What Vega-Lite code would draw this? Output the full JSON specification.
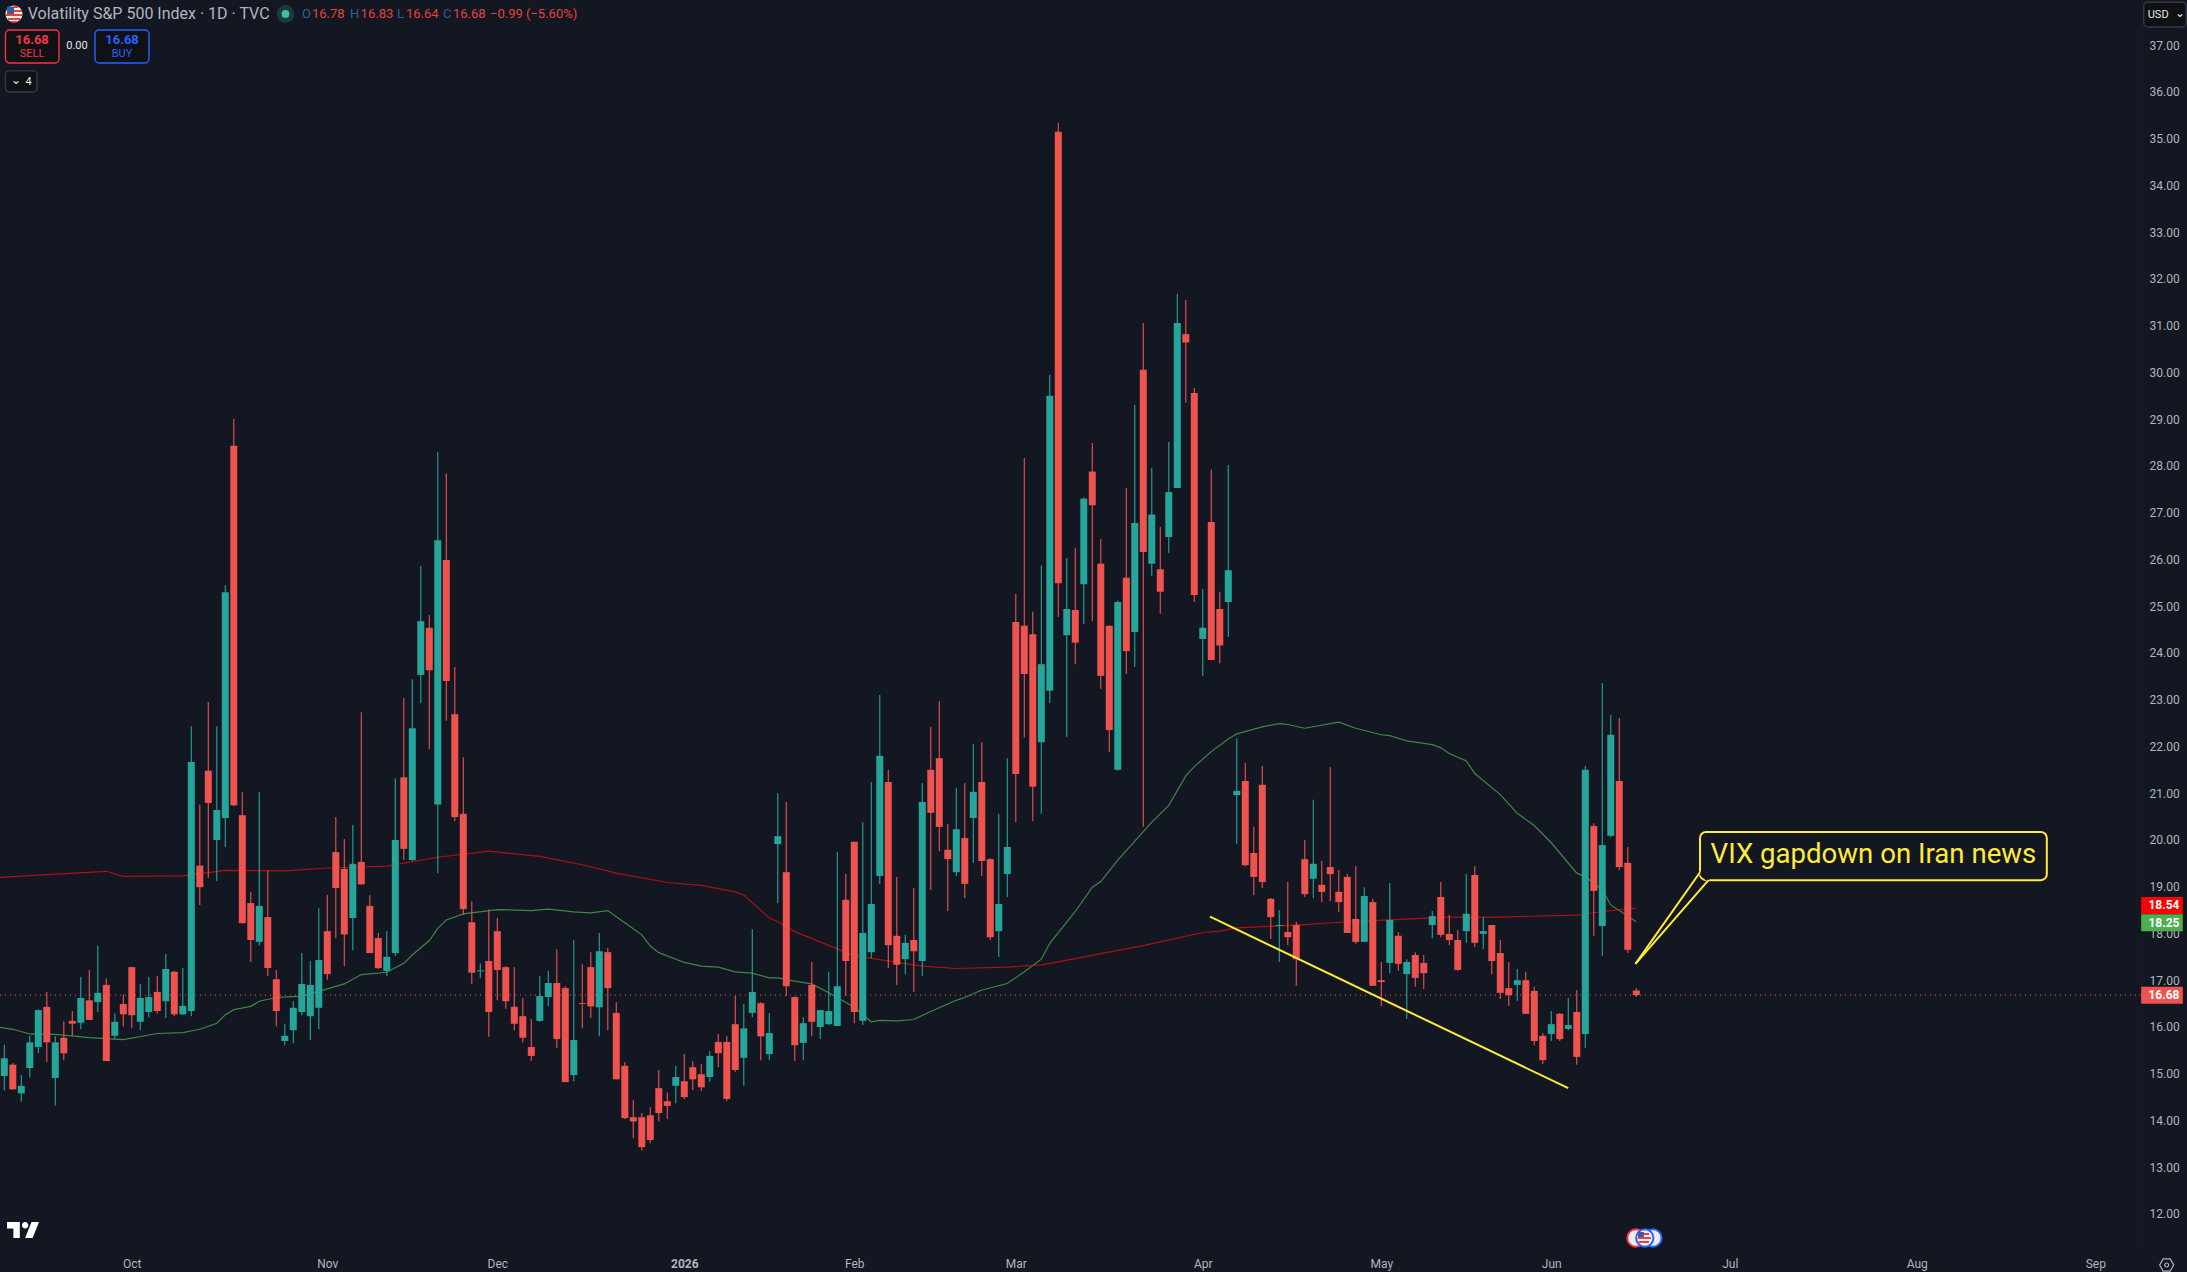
{
  "$schema": "https://vega.github.io/schema/vega-lite/v6.json",
  "width": 2141,
  "height": 1250,
  "autosize": "none",
  "padding": {"left": 0, "top": 0, "right": 46, "bottom": 22},
  "background": "#131722",
  "config": {"view": {"stroke": null}, "text": {"font": "Roboto"}},
  "datasets": {
    "ohlc": [
      {"i":0,"open":14.95,"high":15.62,"low":14.64,"close":15.33},{"i":1,"open":15.19,"high":15.23,"low":14.65,"close":14.67},{"i":2,"open":14.58,"high":14.97,"low":14.4,"close":14.74},{"i":3,"open":15.12,"high":15.81,"low":14.92,"close":15.67},{"i":4,"open":15.57,"high":16.38,"low":15.44,"close":16.36},{"i":5,"open":16.43,"high":16.75,"low":15.25,"close":15.67},{"i":6,"open":14.91,"high":15.8,"low":14.32,"close":15.67},{"i":7,"open":15.77,"high":16.12,"low":15.29,"close":15.44},{"i":8,"open":16.13,"high":16.34,"low":15.81,"close":16.07},{"i":9,"open":16.09,"high":17.07,"low":15.95,"close":16.62},
      {"i":10,"open":16.57,"high":17.22,"low":16.15,"close":16.15},{"i":11,"open":16.53,"high":17.74,"low":16.32,"close":16.73},{"i":12,"open":16.9,"high":17.04,"low":15.27,"close":15.27},{"i":13,"open":15.81,"high":16.29,"low":15.74,"close":16.11},{"i":14,"open":16.49,"high":16.7,"low":16.01,"close":16.27},{"i":15,"open":17.28,"high":17.28,"low":15.97,"close":16.25},{"i":16,"open":16.11,"high":16.92,"low":15.93,"close":16.62},{"i":17,"open":16.32,"high":17.07,"low":16.2,"close":16.64},{"i":18,"open":16.75,"high":17.09,"low":16.29,"close":16.34},{"i":19,"open":16.55,"high":17.56,"low":16.19,"close":17.24},
      {"i":20,"open":17.18,"high":17.2,"low":16.23,"close":16.27},{"i":21,"open":16.27,"high":17.26,"low":16.26,"close":16.45},{"i":22,"open":16.34,"high":22.43,"low":16.23,"close":21.67},{"i":23,"open":19.45,"high":20.76,"low":18.61,"close":18.99},{"i":24,"open":21.48,"high":22.95,"low":19.19,"close":20.79},{"i":25,"open":20.0,"high":22.43,"low":19.12,"close":20.64},{"i":26,"open":20.47,"high":25.45,"low":19.85,"close":25.3},{"i":27,"open":28.43,"high":29.01,"low":20.72,"close":20.74},{"i":28,"open":20.53,"high":21.02,"low":18.22,"close":18.22},{"i":29,"open":18.65,"high":18.89,"low":17.39,"close":17.86},
      {"i":30,"open":17.82,"high":21.02,"low":17.74,"close":18.59},{"i":31,"open":18.35,"high":19.35,"low":17.09,"close":17.26},{"i":32,"open":17.02,"high":17.22,"low":16.01,"close":16.34},{"i":33,"open":15.7,"high":16.07,"low":15.61,"close":15.81},{"i":34,"open":15.93,"high":16.55,"low":15.65,"close":16.41},{"i":35,"open":16.32,"high":17.58,"low":16.25,"close":16.92},{"i":36,"open":16.23,"high":17.41,"low":15.72,"close":16.9},{"i":37,"open":16.41,"high":18.54,"low":15.95,"close":17.43},{"i":38,"open":18.05,"high":18.82,"low":17.01,"close":17.13},{"i":39,"open":19.74,"high":20.49,"low":17.9,"close":18.97},
      {"i":40,"open":19.38,"high":20.02,"low":17.3,"close":17.98},{"i":41,"open":18.33,"high":20.32,"low":17.64,"close":19.49},{"i":42,"open":19.53,"high":22.73,"low":19.05,"close":19.05},{"i":43,"open":18.59,"high":18.82,"low":17.58,"close":17.58},{"i":44,"open":17.9,"high":18.01,"low":17.24,"close":17.26},{"i":45,"open":17.2,"high":18.05,"low":17.09,"close":17.5},{"i":46,"open":17.58,"high":21.32,"low":17.52,"close":20.0},{"i":47,"open":21.34,"high":23.03,"low":19.57,"close":19.81},{"i":48,"open":19.57,"high":23.44,"low":19.55,"close":22.39},{"i":49,"open":23.53,"high":25.86,"low":22.93,"close":24.68},
      {"i":50,"open":24.54,"high":24.81,"low":21.94,"close":23.63},{"i":51,"open":20.76,"high":28.3,"low":19.29,"close":26.41},{"i":52,"open":25.99,"high":27.84,"low":22.55,"close":23.4},{"i":53,"open":22.69,"high":23.7,"low":20.4,"close":20.49},{"i":54,"open":20.56,"high":21.77,"low":18.4,"close":18.52},{"i":55,"open":18.24,"high":18.69,"low":16.92,"close":17.16},{"i":56,"open":17.19,"high":17.36,"low":17.04,"close":17.21},{"i":57,"open":17.41,"high":18.52,"low":15.79,"close":16.32},{"i":58,"open":18.05,"high":18.33,"low":16.57,"close":17.22},{"i":59,"open":17.28,"high":17.3,"low":16.39,"close":16.55},
      {"i":60,"open":16.43,"high":17.28,"low":15.93,"close":16.07},{"i":61,"open":16.23,"high":16.62,"low":15.67,"close":15.77},{"i":62,"open":15.57,"high":16.17,"low":15.27,"close":15.38},{"i":63,"open":16.13,"high":17.09,"low":16.11,"close":16.66},{"i":64,"open":16.64,"high":17.2,"low":16.45,"close":16.94},{"i":65,"open":16.94,"high":17.66,"low":15.55,"close":15.74},{"i":66,"open":16.83,"high":16.87,"low":14.82,"close":14.82},{"i":67,"open":14.97,"high":17.86,"low":14.84,"close":15.72},{"i":68,"open":16.51,"high":17.34,"low":15.97,"close":16.49},{"i":69,"open":17.28,"high":17.6,"low":16.19,"close":16.44},
      {"i":70,"open":16.42,"high":18.01,"low":15.8,"close":17.62},{"i":71,"open":17.6,"high":17.69,"low":15.93,"close":16.83},{"i":72,"open":16.3,"high":16.53,"low":14.88,"close":14.88},{"i":73,"open":15.17,"high":15.25,"low":14.03,"close":14.05},{"i":74,"open":14.07,"high":14.43,"low":13.62,"close":13.98},{"i":75,"open":14.07,"high":14.16,"low":13.36,"close":13.43},{"i":76,"open":14.11,"high":14.28,"low":13.51,"close":13.58},{"i":77,"open":14.69,"high":15.08,"low":13.98,"close":14.16},{"i":78,"open":14.41,"high":14.6,"low":14.03,"close":14.31},{"i":79,"open":14.74,"high":15.17,"low":14.37,"close":14.93},
      {"i":80,"open":14.84,"high":15.42,"low":14.46,"close":14.5},{"i":81,"open":15.14,"high":15.27,"low":14.65,"close":14.88},{"i":82,"open":14.99,"high":15.21,"low":14.63,"close":14.71},{"i":83,"open":14.93,"high":15.48,"low":14.82,"close":15.38},{"i":84,"open":15.68,"high":15.85,"low":15.14,"close":15.44},{"i":85,"open":15.68,"high":15.8,"low":14.41,"close":14.46},{"i":86,"open":16.06,"high":16.66,"low":15.04,"close":15.08},{"i":87,"open":15.34,"high":16.49,"low":14.74,"close":15.97},{"i":88,"open":16.3,"high":18.09,"low":16.21,"close":16.75},{"i":89,"open":16.51,"high":16.53,"low":15.29,"close":15.8},
      {"i":90,"open":15.42,"high":16.3,"low":15.29,"close":15.87},{"i":91,"open":19.91,"high":21.0,"low":18.65,"close":20.08},{"i":92,"open":19.31,"high":20.81,"low":16.66,"close":16.87},{"i":93,"open":16.64,"high":16.65,"low":15.27,"close":15.61},{"i":94,"open":15.66,"high":16.21,"low":15.29,"close":16.08},{"i":95,"open":16.9,"high":17.39,"low":15.8,"close":16.11},{"i":96,"open":16.0,"high":16.36,"low":15.74,"close":16.36},{"i":97,"open":16.06,"high":17.18,"low":16.04,"close":16.34},{"i":98,"open":16.02,"high":19.74,"low":16.02,"close":16.87},{"i":99,"open":18.72,"high":19.27,"low":16.66,"close":17.41},
      {"i":100,"open":19.96,"high":19.96,"low":16.08,"close":16.32},{"i":101,"open":16.13,"high":20.38,"low":16.04,"close":18.01},{"i":102,"open":17.6,"high":21.24,"low":17.47,"close":18.63},{"i":103,"open":19.23,"high":23.1,"low":19.06,"close":21.8},{"i":104,"open":21.24,"high":21.5,"low":17.26,"close":17.75},{"i":105,"open":17.95,"high":19.21,"low":16.9,"close":17.33},{"i":106,"open":17.45,"high":17.97,"low":17.13,"close":17.8},{"i":107,"open":17.86,"high":18.97,"low":16.75,"close":17.62},{"i":108,"open":17.41,"high":21.22,"low":17.09,"close":20.81},{"i":109,"open":21.5,"high":22.42,"low":18.93,"close":20.58},
      {"i":110,"open":21.75,"high":22.97,"low":19.76,"close":20.28},{"i":111,"open":19.79,"high":20.34,"low":18.48,"close":19.59},{"i":112,"open":19.31,"high":21.11,"low":19.23,"close":20.23},{"i":113,"open":20.04,"high":21.22,"low":18.76,"close":19.06},{"i":114,"open":20.47,"high":22.05,"low":19.51,"close":21.03},{"i":115,"open":21.24,"high":22.09,"low":19.23,"close":19.55},{"i":116,"open":19.59,"high":19.61,"low":17.86,"close":17.92},{"i":117,"open":18.05,"high":20.56,"low":17.5,"close":18.63},{"i":118,"open":19.27,"high":21.75,"low":18.78,"close":19.85},{"i":119,"open":24.66,"high":25.26,"low":20.38,"close":21.41},
      {"i":120,"open":24.58,"high":28.17,"low":22.19,"close":23.55},{"i":121,"open":24.4,"high":24.88,"low":20.4,"close":21.14},{"i":122,"open":22.09,"high":25.87,"low":20.56,"close":23.76},{"i":123,"open":23.19,"high":29.95,"low":22.93,"close":29.5},{"i":124,"open":35.15,"high":35.34,"low":24.77,"close":25.49},{"i":125,"open":24.38,"high":26.03,"low":22.21,"close":24.94},{"i":126,"open":24.92,"high":26.25,"low":23.76,"close":24.22},{"i":127,"open":25.47,"high":27.33,"low":24.62,"close":27.3},{"i":128,"open":27.88,"high":28.49,"low":24.68,"close":27.16},{"i":129,"open":25.91,"high":26.44,"low":23.23,"close":23.51},
      {"i":130,"open":24.58,"high":24.6,"low":21.88,"close":22.35},{"i":131,"open":21.5,"high":25.12,"low":21.48,"close":25.09},{"i":132,"open":25.61,"high":27.53,"low":23.55,"close":24.04},{"i":133,"open":24.45,"high":29.31,"low":23.7,"close":26.78},{"i":134,"open":30.06,"high":31.06,"low":20.28,"close":26.16},{"i":135,"open":25.91,"high":27.96,"low":25.65,"close":26.96},{"i":136,"open":25.79,"high":26.7,"low":24.84,"close":25.31},{"i":137,"open":26.48,"high":28.51,"low":26.14,"close":27.44},{"i":138,"open":27.53,"high":31.68,"low":27.53,"close":31.06},{"i":139,"open":30.82,"high":31.55,"low":29.35,"close":30.64},
      {"i":140,"open":29.56,"high":29.67,"low":25.09,"close":25.24},{"i":141,"open":24.3,"high":25.37,"low":23.51,"close":24.54},{"i":142,"open":26.8,"high":27.92,"low":23.85,"close":23.85},{"i":143,"open":24.94,"high":25.31,"low":23.78,"close":24.16},{"i":144,"open":25.09,"high":28.02,"low":24.34,"close":25.77},{"i":145,"open":20.96,"high":22.17,"low":19.92,"close":21.05},{"i":146,"open":21.26,"high":21.65,"low":19.44,"close":19.46},{"i":147,"open":19.72,"high":20.28,"low":18.82,"close":19.21},{"i":148,"open":21.18,"high":21.58,"low":18.97,"close":19.1},{"i":149,"open":18.74,"high":18.76,"low":17.88,"close":18.35},
      {"i":150,"open":18.16,"high":18.5,"low":17.39,"close":18.18},{"i":151,"open":18.03,"high":19.1,"low":17.75,"close":17.92},{"i":152,"open":18.18,"high":18.25,"low":16.88,"close":17.45},{"i":153,"open":19.59,"high":20.0,"low":18.78,"close":18.84},{"i":154,"open":19.17,"high":20.86,"low":18.76,"close":19.49},{"i":155,"open":19.04,"high":19.55,"low":18.67,"close":18.89},{"i":156,"open":19.42,"high":21.56,"low":18.69,"close":19.27},{"i":157,"open":18.89,"high":19.36,"low":18.46,"close":18.67},{"i":158,"open":19.21,"high":19.27,"low":18.01,"close":18.01},{"i":159,"open":18.31,"high":19.44,"low":17.78,"close":17.82},
      {"i":160,"open":17.82,"high":18.99,"low":17.82,"close":18.8},{"i":161,"open":18.67,"high":18.74,"low":16.88,"close":16.88},{"i":162,"open":17.0,"high":17.39,"low":16.45,"close":16.96},{"i":163,"open":17.37,"high":19.08,"low":17.15,"close":18.29},{"i":164,"open":17.95,"high":18.03,"low":17.2,"close":17.35},{"i":165,"open":17.13,"high":17.45,"low":16.17,"close":17.39},{"i":166,"open":17.54,"high":17.6,"low":16.86,"close":17.05},{"i":167,"open":17.37,"high":17.54,"low":16.81,"close":17.15},{"i":168,"open":18.18,"high":18.48,"low":17.9,"close":18.37},{"i":169,"open":18.78,"high":19.1,"low":17.92,"close":17.97},
      {"i":170,"open":17.99,"high":18.4,"low":17.75,"close":17.86},{"i":171,"open":17.86,"high":18.07,"low":17.2,"close":17.22},{"i":172,"open":18.05,"high":19.27,"low":17.8,"close":18.42},{"i":173,"open":19.25,"high":19.44,"low":17.71,"close":17.8},{"i":174,"open":17.99,"high":18.35,"low":17.67,"close":18.05},{"i":175,"open":18.18,"high":18.18,"low":17.13,"close":17.41},{"i":176,"open":17.58,"high":17.86,"low":16.6,"close":16.73},{"i":177,"open":16.83,"high":17.39,"low":16.45,"close":16.68},{"i":178,"open":16.9,"high":17.24,"low":16.56,"close":17.0},{"i":179,"open":17.0,"high":17.18,"low":16.28,"close":16.28},
      {"i":180,"open":16.77,"high":16.86,"low":15.61,"close":15.7},{"i":181,"open":15.81,"high":15.87,"low":15.21,"close":15.29},{"i":182,"open":15.85,"high":16.34,"low":15.7,"close":16.06},{"i":183,"open":16.28,"high":16.3,"low":15.7,"close":15.74},{"i":184,"open":15.96,"high":16.62,"low":15.93,"close":16.04},{"i":185,"open":16.32,"high":16.79,"low":15.19,"close":15.36},{"i":186,"open":15.85,"high":21.58,"low":15.55,"close":21.5},{"i":187,"open":20.3,"high":20.36,"low":17.95,"close":18.91},{"i":188,"open":18.16,"high":23.36,"low":17.52,"close":19.89},{"i":189,"open":20.09,"high":22.67,"low":20.06,"close":22.25},
      {"i":190,"open":21.26,"high":22.61,"low":19.36,"close":19.42},{"i":191,"open":19.51,"high":19.85,"low":17.58,"close":17.65},{"i":192,"open":16.78,"high":16.83,"low":16.64,"close":16.68}
    ],
    "maRed": [
      {"i":-0.5,"price":19.2},{"i":5,"price":19.26},{"i":12,"price":19.33},{"i":14,"price":19.22},{"i":21,"price":19.23},{"i":26,"price":19.35},{"i":33,"price":19.34},{"i":38,"price":19.4},{"i":45,"price":19.44},{"i":51,"price":19.63},{"i":57,"price":19.76},{"i":63,"price":19.65},{"i":68,"price":19.47},{"i":72,"price":19.29},{"i":78,"price":19.09},{"i":82,"price":19.03},{"i":86,"price":18.89},{"i":87,"price":18.82},{"i":90,"price":18.33},{"i":91,"price":18.25},{"i":93,"price":18.04},{"i":98,"price":17.67},{"i":100,"price":17.52},{"i":103,"price":17.44},{"i":108,"price":17.3},{"i":112,"price":17.25},{"i":118,"price":17.28},{"i":122,"price":17.33},{"i":126,"price":17.46},{"i":129,"price":17.57},{"i":134,"price":17.74},{"i":141,"price":18.02},{"i":143,"price":18.05},{"i":145,"price":18.12},{"i":152,"price":18.18},{"i":158,"price":18.25},{"i":163,"price":18.29},{"i":170,"price":18.35},{"i":176,"price":18.35},{"i":185,"price":18.39},{"i":188,"price":18.47},{"i":192,"price":18.54}
    ],
    "maGreen": [
      {"i":-0.5,"price":15.99},{"i":1,"price":15.95},{"i":3,"price":15.85},{"i":6,"price":15.84},{"i":10,"price":15.77},{"i":14,"price":15.73},{"i":18,"price":15.86},{"i":21,"price":15.88},{"i":23,"price":15.95},{"i":25,"price":16.08},{"i":26,"price":16.26},{"i":27,"price":16.37},{"i":29,"price":16.44},{"i":30,"price":16.55},{"i":32,"price":16.63},{"i":35,"price":16.66},{"i":37,"price":16.76},{"i":40,"price":16.92},{"i":42,"price":17.12},{"i":45,"price":17.17},{"i":47,"price":17.36},{"i":48,"price":17.54},{"i":50,"price":17.85},{"i":51,"price":18.11},{"i":52,"price":18.29},{"i":54,"price":18.42},{"i":58,"price":18.51},{"i":62,"price":18.49},{"i":64,"price":18.52},{"i":67,"price":18.46},{"i":69,"price":18.44},{"i":71,"price":18.49},{"i":73,"price":18.23},{"i":75,"price":17.97},{"i":76,"price":17.73},{"i":77,"price":17.59},{"i":80,"price":17.38},{"i":82,"price":17.3},{"i":84,"price":17.28},{"i":86,"price":17.18},{"i":88,"price":17.15},{"i":90,"price":17.05},{"i":91,"price":17.05},{"i":93,"price":16.98},{"i":95,"price":16.92},{"i":97,"price":16.73},{"i":100,"price":16.42},{"i":102,"price":16.11},{"i":103,"price":16.14},{"i":105,"price":16.13},{"i":107,"price":16.16},{"i":109,"price":16.33},{"i":112,"price":16.57},{"i":113,"price":16.63},{"i":115,"price":16.79},{"i":118,"price":16.93},{"i":120,"price":17.18},{"i":122,"price":17.45},{"i":123,"price":17.79},{"i":126,"price":18.47},{"i":128,"price":18.99},{"i":129,"price":19.11},{"i":131,"price":19.57},{"i":135,"price":20.38},{"i":137,"price":20.74},{"i":139,"price":21.37},{"i":140,"price":21.57},{"i":142,"price":21.89},{"i":144,"price":22.16},{"i":145,"price":22.27},{"i":148,"price":22.42},{"i":150,"price":22.49},{"i":151,"price":22.47},{"i":153,"price":22.39},{"i":157,"price":22.52},{"i":159,"price":22.39},{"i":162,"price":22.25},{"i":163,"price":22.23},{"i":165,"price":22.12},{"i":168,"price":22.04},{"i":169,"price":21.97},{"i":170,"price":21.85},{"i":172,"price":21.69},{"i":173,"price":21.42},{"i":176,"price":20.97},{"i":178,"price":20.57},{"i":180,"price":20.31},{"i":182,"price":19.94},{"i":185,"price":19.29},{"i":186,"price":19.21},{"i":188,"price":18.93},{"i":189,"price":18.61},{"i":192,"price":18.25}
    ],
    "boxes": [
      {"i":0.14,"i2":6.44,"price":37.325,"price2":36.62,"tone":"sell"},
      {"i":10.67,"i2":17.02,"price":37.325,"price2":36.62,"tone":"buy"},
      {"i":0.14,"i2":3.85,"price":36.45,"price2":36.0,"tone":"frame"},
      {"i":251.7,"i2":256.7,"price":37.92,"price2":37.39,"tone":"frame"}
    ],
    "flagStripes": [
      {"i":0.32,"i2":1.14,"price":37.828,"price2":37.668,"tone":"flagBlue"},
      {"i":1.14,"i2":1.61,"price":37.839,"price2":37.796,"tone":"flagRed"},
      {"i":1.14,"i2":2.08,"price":37.753,"price2":37.71,"tone":"flagRed"},
      {"i":0.2,"i2":2.08,"price":37.668,"price2":37.625,"tone":"flagRed"},
      {"i":0.44,"i2":1.85,"price":37.582,"price2":37.539,"tone":"flagRed"},
      {"i":0.79,"i2":1.49,"price":37.518,"price2":37.488,"tone":"flagRed"},
      {"i":192.2,"i2":192.9,"price":11.614,"price2":11.486,"tone":"flagBlue"},
      {"i":192.9,"i2":193.5,"price":11.593,"price2":11.55,"tone":"flagRed"},
      {"i":192.2,"i2":193.73,"price":11.507,"price2":11.465,"tone":"flagRed"},
      {"i":192.3,"i2":193.5,"price":11.422,"price2":11.379,"tone":"flagRed"}
    ],
    "eventRings": [
      {"i":191.96,"price":11.486,"tone":"back"},
      {"i":193.96,"price":11.486,"tone":"front"},
      {"i":193.0,"price":11.486,"tone":"front"}
    ],
    "drawings": [
      {"i":141.85,"i2":184,"price":18.36,"price2":14.69}
    ],
    "callout": [
      {"i":199.5,"i2":191.9,"price":19.31,"price2":17.35},
      {"i":200.5,"i2":191.9,"price":19.14,"price2":17.35}
    ],
    "badges": [
      {"label":"18.54","at":18.6,"tone":"maRed"},
      {"label":"18.25","at":18.23,"tone":"maGreen"},
      {"label":"16.68","at":16.68,"tone":"last"}
    ],
    "headerText": [{"label":"Volatility S&P 500 Index · 1D · TVC","i":2.75,"price":37.67,"tone":"muted"}],
    "quoteText": [
      {"label":"O","i":35.02,"price":37.67,"tone":"muted"},{"label":"16.78","i":36.2,"price":37.67,"tone":"last"},
      {"label":"H","i":40.67,"price":37.67,"tone":"muted"},{"label":"16.83","i":41.92,"price":37.67,"tone":"last"},
      {"label":"L","i":46.2,"price":37.67,"tone":"muted"},{"label":"16.64","i":47.26,"price":37.67,"tone":"last"},
      {"label":"C","i":51.61,"price":37.67,"tone":"muted"},{"label":"16.68","i":52.79,"price":37.67,"tone":"last"},
      {"label":"−0.99 (−5.60%)","i":57.14,"price":37.67,"tone":"last"}
    ],
    "tradeNumbers": [
      {"label":"16.68","i":3.26,"price":37.11,"tone":"sell"},
      {"label":"16.68","i":13.85,"price":37.11,"tone":"buy"}
    ],
    "tradeLabels": [
      {"label":"SELL","i":3.26,"price":36.81,"tone":"sell"},
      {"label":"BUY","i":13.85,"price":36.81,"tone":"buy"},
      {"label":"0.00","i":8.55,"price":36.98,"tone":"white"},
      {"label":"4","i":2.85,"price":36.21,"tone":"white"},
      {"label":"USD","i":253.4,"price":37.65,"tone":"white"}
    ],
    "chevrons": [
      {"label":"⌄","i":1.38,"price":36.26,"tone":"white"},
      {"label":"⌄","i":255.96,"price":37.69,"tone":"white"}
    ],
    "logo": [{"i":2.2,"price":11.656}],
    "settings": [{"i":254.4,"price":10.908}],
    "note": [{"label":"VIX gapdown on Iran news","i":219.9,"price":19.68}]
  },
  "layer": [
    {
      "data": {"values": [{"price": 16.68}]},
      "mark": {"type": "rule", "color": "#ef5350", "strokeWidth": 1, "strokeDash": [1, 4]},
      "encoding": {"y": {"field": "price", "type": "quantitative", "title": null, "scale": {"domain": [11.229, 37.967], "zero": false, "nice": false, "padding": 0}, "axis": {"orient": "right", "values": [12,13,14,15,16,17,18,19,20,21,22,23,24,25,26,27,28,29,30,31,32,33,34,35,36,37], "format": ".2f", "labelColor": "#b2b5be", "labelFont": "Roboto", "labelFontSize": 12, "labelPadding": 8, "ticks": false, "domainColor": "#171b26", "grid": false, "labelOverlap": false}}}
    },
    {
      "data": {"name": "maGreen"},
      "mark": {"type": "line", "color": "#4caf50", "opacity": 0.75, "strokeWidth": 1.2},
      "encoding": {
        "x": {"field": "i", "type": "quantitative", "title": null, "scale": {"domain": [-0.506, 251.38], "zero": false, "nice": false, "padding": 0}, "axis": {"values": [15,38,58,80,100,119,141,162,182,203,225,246], "labelExpr": "{'15':'Oct','38':'Nov','58':'Dec','80':'2026','100':'Feb','119':'Mar','141':'Apr','162':'May','182':'Jun','203':'Jul','225':'Aug','246':'Sep'}[datum.value]", "labelColor": "#b2b5be", "labelFont": "Roboto", "labelFontSize": 12, "labelFontWeight": {"condition": {"test": "datum.value == 80", "value": "bold"}, "value": "normal"}, "labelPadding": 8, "ticks": false, "domain": false, "grid": false, "labelOverlap": false}},
        "y": {"field": "price", "type": "quantitative"}
      }
    },
    {
      "data": {"name": "maRed"},
      "mark": {"type": "line", "color": "#d40f0f", "opacity": 0.8, "strokeWidth": 1.2},
      "encoding": {"x": {"field": "i", "type": "quantitative"}, "y": {"field": "price", "type": "quantitative"}}
    },
    {
      "data": {"name": "ohlc"},
      "mark": {"type": "rule", "strokeWidth": 1.1},
      "encoding": {
        "x": {"field": "i", "type": "quantitative"},
        "y": {"field": "low", "type": "quantitative"},
        "y2": {"field": "high"},
        "color": {"condition": {"test": "datum.close >= datum.open", "value": "#26a69a"}, "value": "#ef5350"}
      }
    },
    {
      "data": {"name": "ohlc"},
      "mark": {"type": "bar", "size": 7},
      "encoding": {
        "x": {"field": "i", "type": "quantitative"},
        "y": {"field": "open", "type": "quantitative"},
        "y2": {"field": "close"},
        "color": {"condition": {"test": "datum.close >= datum.open", "value": "#26a69a"}, "value": "#ef5350"}
      }
    },
    {
      "data": {"name": "drawings"},
      "mark": {"type": "rule", "color": "#ffeb3b", "strokeWidth": 2},
      "encoding": {"x": {"field": "i", "type": "quantitative"}, "x2": {"field": "i2"}, "y": {"field": "price", "type": "quantitative"}, "y2": {"field": "price2"}}
    },
    {
      "data": {"values": [{"i": 199.5, "i2": 240.3, "price": 20.17, "price2": 19.14}]},
      "mark": {"type": "rect", "fill": "#131722", "stroke": "#ffeb3b", "strokeWidth": 2, "cornerRadius": 6},
      "encoding": {"x": {"field": "i", "type": "quantitative"}, "x2": {"field": "i2"}, "y": {"field": "price", "type": "quantitative"}, "y2": {"field": "price2"}}
    },
    {
      "data": {"values": [{"i": 199.5, "i2": 200.5, "price": 19.31, "price2": 19.14}]},
      "mark": {"type": "rule", "color": "#131722", "strokeWidth": 4},
      "encoding": {"x": {"field": "i", "type": "quantitative"}, "x2": {"field": "i2"}, "y": {"field": "price", "type": "quantitative"}, "y2": {"field": "price2"}}
    },
    {
      "data": {"name": "callout"},
      "mark": {"type": "rule", "color": "#ffeb3b", "strokeWidth": 2},
      "encoding": {"x": {"field": "i", "type": "quantitative"}, "x2": {"field": "i2"}, "y": {"field": "price", "type": "quantitative"}, "y2": {"field": "price2"}}
    },
    {
      "data": {"name": "note"},
      "mark": {"type": "text", "font": "Roboto", "fontSize": 27.6, "color": "#ffeb3b", "baseline": "middle"},
      "encoding": {"x": {"field": "i", "type": "quantitative"}, "y": {"field": "price", "type": "quantitative"}, "text": {"field": "label"}}
    },
    {
      "data": {"name": "badges"},
      "mark": {"type": "bar", "orient": "horizontal", "size": 17},
      "encoding": {
        "x": {"datum": 251.4, "type": "quantitative"},
        "x2": {"datum": 256.3},
        "y": {"field": "at", "type": "quantitative"},
        "color": {"field": "tone", "type": "nominal", "legend": null, "scale": {"domain": ["maRed","maGreen","last","muted","white","sell","buy"], "range": ["#ff0000","#4caf50","#ef5350","#b2b5be","#e8e8ea","#f23645","#2962ff"]}}
      }
    },
    {
      "data": {"name": "badges"},
      "mark": {"type": "text", "font": "Roboto", "fontSize": 12, "fontWeight": "bold", "color": "#ffffff", "baseline": "middle"},
      "encoding": {"x": {"datum": 254.08, "type": "quantitative"}, "y": {"field": "at", "type": "quantitative"}, "text": {"field": "label"}}
    },
    {
      "data": {"name": "boxes"},
      "mark": {"type": "rect", "fill": "#101114", "strokeWidth": 1.4, "cornerRadius": 4},
      "encoding": {
        "x": {"field": "i", "type": "quantitative"}, "x2": {"field": "i2"},
        "y": {"field": "price", "type": "quantitative"}, "y2": {"field": "price2"},
        "stroke": {"field": "tone", "type": "nominal", "legend": null, "scale": {"domain": ["sell","buy","frame"], "range": ["#f23645","#2962ff","#363a45"]}}
      }
    },
    {
      "data": {"values": [{"i": 1.14, "price": 37.668}]},
      "mark": {"type": "point", "filled": true, "color": "#eeeeee", "opacity": 1, "size": 290},
      "encoding": {"x": {"field": "i", "type": "quantitative"}, "y": {"field": "price", "type": "quantitative"}}
    },
    {
      "data": {"name": "eventRings"},
      "mark": {"type": "point", "filled": false, "opacity": 1, "size": 300, "strokeWidth": 2, "fill": "#eeeeee"},
      "encoding": {
        "x": {"field": "i", "type": "quantitative"}, "y": {"field": "price", "type": "quantitative"},
        "stroke": {"field": "tone", "type": "nominal", "legend": null, "scale": {"domain": ["back","front"], "range": ["#9c27b0","#e5283a"]}}
      }
    },
    {
      "data": {"name": "flagStripes"},
      "mark": {"type": "rect"},
      "encoding": {
        "x": {"field": "i", "type": "quantitative"}, "x2": {"field": "i2"},
        "y": {"field": "price", "type": "quantitative"}, "y2": {"field": "price2"},
        "fill": {"field": "tone", "type": "nominal", "legend": null, "scale": {"domain": ["flagBlue","flagRed"], "range": ["#3c5a9a","#e8413c"]}}
      }
    },
    {
      "data": {"values": [{"i": 33.08, "price": 37.67}]},
      "mark": {"type": "point", "filled": true, "color": "#1a3a3c", "opacity": 1, "size": 320},
      "encoding": {"x": {"field": "i", "type": "quantitative"}, "y": {"field": "price", "type": "quantitative"}}
    },
    {
      "data": {"values": [{"i": 33.08, "price": 37.67}]},
      "mark": {"type": "point", "filled": true, "color": "#42bda8", "opacity": 1, "size": 60},
      "encoding": {"x": {"field": "i", "type": "quantitative"}, "y": {"field": "price", "type": "quantitative"}}
    },
    {
      "data": {"name": "headerText"},
      "mark": {"type": "text", "font": "Roboto", "fontSize": 16, "align": "left", "baseline": "middle", "color": "#b2b5be"},
      "encoding": {"x": {"field": "i", "type": "quantitative"}, "y": {"field": "price", "type": "quantitative"}, "text": {"field": "label"}}
    },
    {
      "data": {"name": "quoteText"},
      "mark": {"type": "text", "font": "Roboto", "fontSize": 13, "align": "left", "baseline": "middle"},
      "encoding": {
        "x": {"field": "i", "type": "quantitative"}, "y": {"field": "price", "type": "quantitative"}, "text": {"field": "label"},
        "fill": {"field": "tone", "type": "nominal", "legend": null, "scale": {"domain": ["muted","last"], "range": ["#b2b5be","#ef5350"]}}
      }
    },
    {
      "data": {"name": "tradeNumbers"},
      "mark": {"type": "text", "font": "Roboto", "fontSize": 13, "fontWeight": "bold", "align": "center", "baseline": "middle"},
      "encoding": {
        "x": {"field": "i", "type": "quantitative"}, "y": {"field": "price", "type": "quantitative"}, "text": {"field": "label"},
        "color": {"field": "tone", "type": "nominal", "legend": null}
      }
    },
    {
      "data": {"name": "tradeLabels"},
      "mark": {"type": "text", "font": "Roboto", "fontSize": 11, "align": "center", "baseline": "middle"},
      "encoding": {
        "x": {"field": "i", "type": "quantitative"}, "y": {"field": "price", "type": "quantitative"}, "text": {"field": "label"},
        "color": {"field": "tone", "type": "nominal", "legend": null}
      }
    },
    {
      "data": {"name": "chevrons"},
      "mark": {"type": "text", "font": "DejaVu Sans", "fontSize": 12, "align": "center", "baseline": "middle"},
      "encoding": {
        "x": {"field": "i", "type": "quantitative"}, "y": {"field": "price", "type": "quantitative"}, "text": {"field": "label"},
        "color": {"field": "tone", "type": "nominal", "legend": null}
      }
    },
    {
      "data": {"name": "logo"},
      "mark": {"type": "point", "filled": true, "color": "#ffffff", "opacity": 1, "size": 1024, "shape": "M-0.2 -0.5H-1V-0.1H-0.6V0.5H-0.2ZM0.6 0.5H0.133L0.533 -0.5H1ZM0.133 -0.1a0.2 0.2 0 1 0 0 -0.4a0.2 0.2 0 0 0 0 0.4Z"},
      "encoding": {"x": {"field": "i", "type": "quantitative"}, "y": {"field": "price", "type": "quantitative"}}
    },
    {
      "data": {"name": "settings"},
      "mark": {"type": "point", "color": "#b2b5be", "opacity": 1, "size": 196, "strokeWidth": 1.2, "shape": "M-0.5 -0.87L0.5 -0.87L1 0L0.5 0.87L-0.5 0.87L-1 0Z"},
      "encoding": {"x": {"field": "i", "type": "quantitative"}, "y": {"field": "price", "type": "quantitative"}}
    },
    {
      "data": {"name": "settings"},
      "mark": {"type": "point", "color": "#b2b5be", "opacity": 1, "size": 16, "strokeWidth": 1.2},
      "encoding": {"x": {"field": "i", "type": "quantitative"}, "y": {"field": "price", "type": "quantitative"}}
    }
  ]
}
